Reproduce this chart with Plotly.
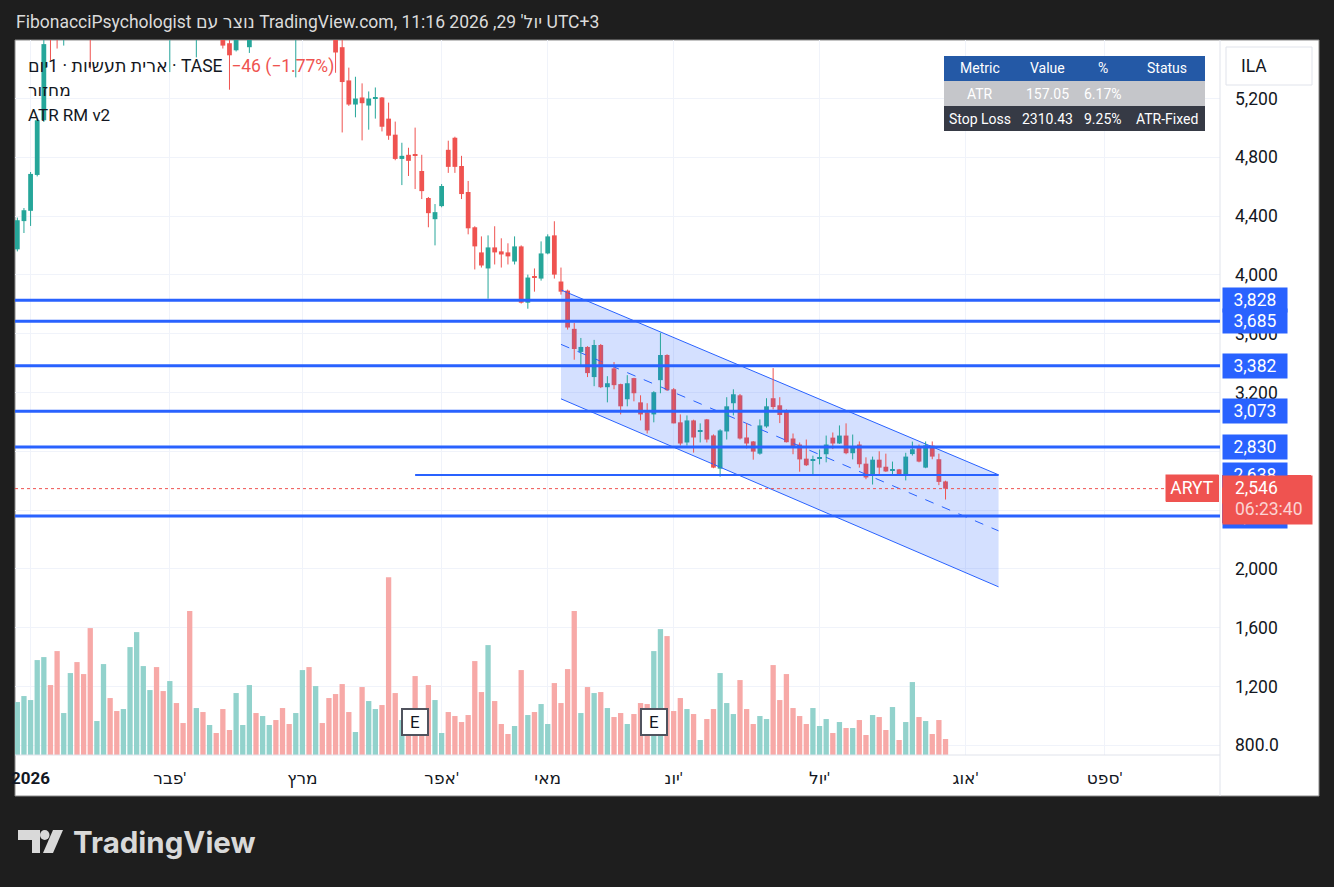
import plotly.graph_objects as go

# ARYT daily candles, Dec-2025 .. 29 Jul 2026
opens = [4174, 4366, 4436, 4680, 5052, 5660, 5640, 5620, 5720, 5820,
         5760, 5700, 5660, 5780, 5880, 5800, 5740, 5820, 5920, 6020,
         6100, 6160, 6040, 5880, 5960, 5880, 5800, 5740, 5800, 5740,
         5810, 5720, 5576, 5528, 5640, 5549, 5650, 5620, 5700, 5780,
         5720, 5680, 5640, 5700, 5760, 5720, 5780, 5720, 5660, 5549,
         5323, 5159, 5207, 5152, 5200, 5207, 5063, 4954, 4789, 4817,
         4817, 4707, 4523, 4379, 4468, 4851, 4933, 4741, 4564, 4324,
         4153, 4044, 4187, 4160, 4153, 4091, 4194, 3811, 3989, 3975,
         4146, 4269, 3955, 3893, 3633, 3476, 3510, 3305, 3523, 3236,
         3364, 3257, 3154, 3298, 3133, 3065, 3051, 3284, 3455, 3222,
         2997, 2860, 3010, 2935, 3017, 2908, 2682, 2935, 3127, 3181,
         2894, 2867, 2784, 2969, 3161, 3113, 3078, 2887, 2846, 2750,
         2738, 2750, 2780, 2893, 2853, 2907, 2787, 2846, 2716, 2644,
         2743, 2695, 2670, 2677, 2644, 2781, 2835, 2689, 2839, 2746,
         2595]
highs = [4390, 4455, 4700, 5060, 5640, 5720, 5700, 5780, 5860, 5880,
         5800, 5740, 5820, 5920, 5940, 5840, 5860, 5960, 6070, 6150,
         6210, 6200, 6070, 6000, 6000, 5920, 5830, 5850, 5830, 5850,
         5840, 5750, 5620, 5680, 5720, 5700, 5700, 5740, 5820, 5810,
         5750, 5710, 5740, 5800, 5790, 5820, 5800, 5740, 5700, 5620,
         5410, 5348, 5303, 5248, 5275, 5210, 5172, 5043, 4899, 4865,
         5002, 4817, 4530, 4482, 4618, 4913, 4940, 4810, 4639, 4331,
         4262, 4269, 4331, 4249, 4215, 4262, 4201, 4002, 4044, 4228,
         4276, 4365, 4050, 3900, 3674, 3571, 3515, 3558, 3530, 3311,
         3407, 3260, 3318, 3300, 3181, 3127, 3209, 3606, 3460, 3230,
         3051, 3044, 3015, 2990, 3020, 2915, 2950, 3168, 3222, 3190,
         2990, 2870, 3017, 3161, 3366, 3168, 3085, 2921, 2860, 2880,
         2770, 2812, 2907, 2928, 2976, 2990, 2914, 2867, 2759, 2764,
         2800, 2784, 2730, 2680, 2790, 2866, 2846, 2867, 2867, 2784,
         2600]
lows = [4160, 4285, 4333, 4670, 5040, 5460, 5540, 5560, 5680, 5700,
        5640, 5400, 5630, 5740, 5760, 5680, 5700, 5790, 5890, 5980,
        6060, 5990, 5850, 5380, 5830, 5750, 5690, 5480, 5700, 5710,
        5680, 5540, 5260, 5520, 5620, 5510, 5610, 5610, 5680, 5690,
        5640, 5615, 5344, 5680, 5690, 5700, 5690, 5630, 5375, 4969,
        5150, 5072, 4915, 4988, 5063, 4976, 4919, 4780, 4611, 4673,
        4584, 4516, 4324, 4201, 4460, 4694, 4694, 4516, 4276, 4037,
        4050, 3838, 4071, 4050, 4071, 4071, 3805, 3770, 3886, 3961,
        4140, 3975, 3866, 3628, 3423, 3387, 3305, 3243, 3230, 3133,
        3222, 3051, 3106, 3140, 3010, 2921, 2997, 3195, 3210, 2990,
        2839, 2839, 2791, 2860, 2860, 2685, 2627, 2880, 3044, 2880,
        2819, 2743, 2777, 2960, 3085, 2992, 2860, 2780, 2661, 2700,
        2634, 2711, 2725, 2815, 2850, 2780, 2745, 2689, 2610, 2574,
        2644, 2660, 2644, 2640, 2602, 2771, 2725, 2685, 2746, 2570,
        2472]
closes = [4372, 4440, 4687, 5052, 5570, 5610, 5620, 5720, 5820, 5760,
          5700, 5650, 5780, 5880, 5800, 5740, 5820, 5920, 6020, 6100,
          6160, 6040, 5900, 5960, 5880, 5800, 5740, 5800, 5740, 5810,
          5720, 5560, 5494, 5640, 5680, 5650, 5620, 5700, 5780, 5720,
          5680, 5640, 5700, 5760, 5720, 5780, 5720, 5660, 5513, 5312,
          5159, 5200, 5168, 5200, 5207, 5008, 4947, 4789, 4810, 4776,
          4810, 4570, 4420, 4427, 4605, 4735, 4735, 4550, 4317, 4194,
          4064, 4187, 4153, 4139, 4126, 4194, 3811, 3982, 3982, 4146,
          4262, 4002, 3886, 3642, 3496, 3510, 3332, 3523, 3236, 3263,
          3250, 3106, 3263, 3195, 3051, 2942, 3202, 3455, 3216, 2990,
          2853, 3010, 2894, 2942, 2880, 2689, 2942, 3106, 3188, 2887,
          2853, 2798, 2976, 3106, 3101, 3047, 2862, 2835, 2745, 2705,
          2743, 2761, 2846, 2853, 2907, 2787, 2835, 2712, 2622, 2743,
          2689, 2663, 2677, 2644, 2764, 2814, 2730, 2841, 2764, 2592,
          2546]
volume_k = [53, 59, 55, 95, 98, 70, 104, 42, 82, 93,
            81, 127, 34, 91, 57, 44, 46, 108, 123, 89,
            65, 88, 64, 74, 52, 32, 144, 47, 43, 30,
            22, 46, 25, 62, 30, 70, 42, 39, 30, 35,
            47, 31, 42, 85, 88, 69, 32, 57, 61, 71,
            43, 23, 68, 54, 46, 50, 178, 62, 35, 28,
            79, 27, 70, 55, 22, 43, 39, 33, 40, 94,
            63, 110, 54, 31, 21, 29, 85, 40, 43, 51,
            31, 72, 52, 86, 144, 42, 68, 62, 63, 47,
            38, 42, 31, 41, 52, 51, 104, 126, 119, 44,
            57, 46, 41, 15, 36, 46, 82, 52, 41, 75,
            46, 31, 39, 36, 90, 55, 81, 47, 39, 31,
            47, 29, 36, 22, 33, 27, 27, 35, 20, 40,
            38, 25, 48, 15, 33, 73, 38, 34, 21, 35,
            16]

month_bars = [2, 23, 43, 64, 80, 99, 121, 143, 164]
month_labels = ["<b>2026</b>", "פבר'", "מרץ", "אפר'", "מאי", "יונ'", "יול'", "אוג'", "ספט'"]

price_ticks = [800, 1200, 1600, 2000, 2400, 2800, 3200, 3600, 4000, 4400, 4800, 5200]
price_tick_labels = ["800.0", "1,200", "1,600", "2,000", "2,400", "2,800", "3,200",
                     "3,600", "4,000", "4,400", "4,800", "5,200"]

levels = [3828, 3685, 3382, 3073, 2830, 2360]
short_level = 2638
short_level_bars = [60, 148]

channel_bars = [82, 148]
channel_upper = [3898, 2640]
channel_lower = [3157, 1878]

earnings_bars = [60, 96]

table_rows = [["Metric", "Value", "%", "Status"],
              ["ATR", "157.05", "6.17%", ""],
              ["Stop Loss", "2310.43", "9.25%", "ATR-Fixed"]]

last_price = 2546
change = -46
change_pct = -1.77

UP = "#26a69a"
DOWN = "#ef5350"
BLUE = "#2962ff"
TEXT = "#131722"
FONT = "Roboto, 'Noto Sans', 'DejaVu Sans', sans-serif"

# pixel -> paper helpers (plot area is 15..1220 x 40..755)
L, R, T, B = 15, 1220, 40, 755


def px(x):
    return (x - L) / (R - L)


def py(y):
    return (B - y) / (B - T)


bars = list(range(len(closes)))
vol_colors = ["#92d2cc" if c >= o else "#f7a9a7" for o, c in zip(opens, closes)]
channel_mid = [(a + b) / 2 for a, b in zip(channel_upper, channel_lower)]

fig = go.Figure()

# channel
fig.add_trace(go.Scatter(
    x=[channel_bars[0], channel_bars[1], channel_bars[1], channel_bars[0]],
    y=[channel_upper[0], channel_upper[1], channel_lower[1], channel_lower[0]],
    fill="toself", fillcolor="rgba(41,98,255,0.2)", mode="lines",
    line=dict(width=0), hoverinfo="skip"))
fig.add_trace(go.Scatter(x=channel_bars, y=channel_upper, mode="lines",
                         line=dict(color=BLUE, width=1), hoverinfo="skip"))
fig.add_trace(go.Scatter(x=channel_bars, y=channel_lower, mode="lines",
                         line=dict(color=BLUE, width=1), hoverinfo="skip"))
fig.add_trace(go.Scatter(x=channel_bars, y=channel_mid, mode="lines",
                         line=dict(color=BLUE, width=1, dash="dash"), hoverinfo="skip"))

# candles: wicks as lines, bodies as floating bars
for is_up, col in ((True, UP), (False, DOWN)):
    idx = [i for i in bars if (closes[i] >= opens[i]) == is_up]
    wx, wy = [], []
    for i in idx:
        wx += [i, i, None]
        wy += [lows[i], highs[i], None]
    fig.add_trace(go.Scatter(x=wx, y=wy, mode="lines", line=dict(color=col, width=1),
                             hoverinfo="skip"))
    fig.add_trace(go.Bar(x=idx, y=[abs(closes[i] - opens[i]) for i in idx],
                         base=[min(opens[i], closes[i]) for i in idx],
                         width=0.72, marker=dict(color=col, line=dict(width=0)), hoverinfo="skip"))

fig.add_trace(go.Bar(x=bars, y=volume_k, yaxis="y2", marker=dict(color=vol_colors, line=dict(width=0)),
                     width=0.8, hoverinfo="skip"))

shapes = []
# white chart panel + separators
shapes.append(dict(type="rect", xref="paper", yref="paper", x0=px(15), x1=px(1319), y0=py(40), y1=py(796),
                   fillcolor="white", line=dict(color="#8a8a8a", width=1), layer="below"))
shapes.append(dict(type="line", xref="paper", yref="paper", x0=1, x1=1, y0=py(40), y1=py(796),
                   line=dict(color="#e0e3eb", width=1)))
shapes.append(dict(type="line", xref="paper", yref="paper", x0=0, x1=1, y0=0, y1=0,
                   line=dict(color="#e0e3eb", width=1)))

for lv in levels:
    shapes.append(dict(type="line", xref="paper", yref="y", x0=0, x1=1, y0=lv, y1=lv,
                       line=dict(color=BLUE, width=3)))
shapes.append(dict(type="line", xref="x", yref="y", x0=short_level_bars[0], x1=short_level_bars[1],
                   y0=short_level, y1=short_level, line=dict(color=BLUE, width=2)))
# last price line
shapes.append(dict(type="line", xref="paper", yref="y", x0=0, x1=px(1166), y0=last_price, y1=last_price,
                   line=dict(color=DOWN, width=1, dash="dot")))

# ILA box
shapes.append(dict(type="rect", xref="paper", yref="paper", x0=px(1226), x1=px(1312), y0=py(47), y1=py(85),
                   fillcolor="white", line=dict(color="#e0e3eb", width=1)))

annotations = []

# table
col_edges = [944, 1016, 1078, 1128, 1205]
row_edges = [56, 81, 106, 131]
row_bg = ["#2459a6", "#c5c6ca", "#363a45"]
for r, row in enumerate(table_rows):
    shapes.append(dict(type="rect", xref="paper", yref="paper", x0=px(col_edges[0]), x1=px(col_edges[-1]),
                       y0=py(row_edges[r]), y1=py(row_edges[r + 1]), fillcolor=row_bg[r], line=dict(width=0)))
    for c, cell in enumerate(row):
        if not cell:
            continue
        annotations.append(dict(xref="paper", yref="paper",
                                x=px((col_edges[c] + col_edges[c + 1]) / 2),
                                y=py((row_edges[r] + row_edges[r + 1]) / 2),
                                text=cell, showarrow=False, xanchor="center", yanchor="middle",
                                font=dict(size=14, color="white")))

# title and legend
annotations.append(dict(xref="paper", yref="paper", x=px(14), y=py(22), xanchor="left", yanchor="middle",
                        text="FibonacciPsychologist נוצר עם TradingView.com, יול' 29, 2026 11:16 UTC+3",
                        showarrow=False, font=dict(size=17.5, color="#dbdbdb")))
annotations.append(dict(xref="paper", yref="paper", x=px(26), y=py(66), xanchor="left", yanchor="middle",
                        text=f"ארית תעשיות · 1יום · TASE&nbsp;&nbsp;<span style='color:{DOWN}'>"
                             f"−{abs(change)} (−{abs(change_pct):.2f}%)</span>",
                        showarrow=False, font=dict(size=17.5, color=TEXT)))
annotations.append(dict(xref="paper", yref="paper", x=px(26), y=py(90), xanchor="left", yanchor="middle",
                        text="מחזור", showarrow=False, font=dict(size=17, color=TEXT)))
annotations.append(dict(xref="paper", yref="paper", x=px(26), y=py(115), xanchor="left", yanchor="middle",
                        text="ATR RM v2", showarrow=False, font=dict(size=17, color=TEXT)))

annotations.append(dict(xref="paper", yref="paper", x=px(1239), y=py(66), xanchor="left", yanchor="middle",
                        text="ILA", showarrow=False, font=dict(size=17.5, color=TEXT)))

# level labels on the price scale
for lv in sorted(levels + [short_level], reverse=True):
    annotations.append(dict(xref="paper", yref="y", x=px(1222), y=lv, xanchor="left", yanchor="middle",
                            text=f"{lv:,}", showarrow=False, bgcolor=BLUE, width=64, height=24, borderpad=0,
                            align="center", font=dict(size=17.5, color="white")))

# last price labels
shapes.append(dict(type="rect", xref="paper", yref="paper", x0=px(1166), x1=px(1219), y0=py(475), y1=py(502),
                   fillcolor=DOWN, line=dict(width=0), layer="above"))
shapes.append(dict(type="rect", xref="paper", yref="paper", x0=px(1222), x1=px(1311), y0=py(475), y1=py(523),
                   fillcolor=DOWN, line=dict(width=0), layer="above"))
annotations.append(dict(xref="paper", yref="paper", x=px(1192), y=py(488), xanchor="center", yanchor="middle",
                        text="ARYT", showarrow=False, font=dict(size=17.5, color="white"),
                        bgcolor=DOWN, width=52, height=26, borderpad=0))
annotations.append(dict(xref="paper", yref="paper", x=px(1222), y=py(475), xanchor="left", yanchor="top",
                        text="", showarrow=False, bgcolor=DOWN, width=89, height=48, borderpad=0))
annotations.append(dict(xref="paper", yref="paper", x=px(1233), y=py(488), xanchor="left", yanchor="middle",
                        text=f"{last_price:,}", showarrow=False, font=dict(size=17.5, color="white")))
annotations.append(dict(xref="paper", yref="paper", x=px(1233), y=py(509), xanchor="left", yanchor="middle",
                        text="06:23:40", showarrow=False,
                        font=dict(size=17.5, color="rgba(255,255,255,0.75)")))

# earnings badges
for eb in earnings_bars:
    annotations.append(dict(xref="x", yref="paper", x=eb, y=py(736), text="E", showarrow=False,
                            bgcolor="white", bordercolor="#50535e", borderwidth=2, borderpad=1,
                            width=22, height=22, font=dict(size=17, color=TEXT)))

# TradingView logo
logo = "#d9d9d9"
shapes.append(dict(type="path", xref="paper", yref="paper", fillcolor=logo, line=dict(width=0),
                   path=f"M {px(18)} {py(830)} L {px(40)} {py(830)} L {px(40)} {py(853)} L {px(32)} {py(853)} "
                        f"L {px(32)} {py(840)} L {px(18)} {py(840)} Z"))
shapes.append(dict(type="circle", xref="paper", yref="paper", fillcolor=logo, line=dict(width=0),
                   x0=px(40), x1=px(49.5), y0=py(830), y1=py(840)))
shapes.append(dict(type="path", xref="paper", yref="paper", fillcolor=logo, line=dict(width=0),
                   path=f"M {px(53)} {py(830)} L {px(63)} {py(830)} L {px(53)} {py(853)} L {px(43)} {py(853)} Z"))
annotations.append(dict(xref="paper", yref="paper", x=px(71), y=py(842), xanchor="left", yanchor="middle",
                        text="<b>TradingView</b>", showarrow=False,
                        font=dict(size=29.5, color=logo, family="Inter, Roboto, sans-serif")))

fig.update_layout(
    width=1334, height=887, autosize=False,
    margin=dict(l=L, r=1334 - R, t=T, b=887 - B),
    paper_bgcolor="#1e1e1e", plot_bgcolor="white",
    font=dict(family=FONT, color=TEXT),
    showlegend=False, hovermode=False, barmode="overlay",
    shapes=shapes, annotations=annotations,
    xaxis=dict(range=[-0.35, 181.4], tickmode="array", tickvals=month_bars, ticktext=month_labels,
               showgrid=True, gridcolor="#f0f3fa", zeroline=False, showline=False, ticks="",
               tickfont=dict(size=17, color=TEXT), ticklabelstandoff=11),
    yaxis=dict(range=[734, 5598], side="right", tickmode="array", tickvals=price_ticks,
               ticktext=price_tick_labels, showgrid=True, gridcolor="#f0f3fa", zeroline=False,
               showline=False, ticks="", tickfont=dict(size=17.5, color=TEXT), ticklabelstandoff=14),
    yaxis2=dict(overlaying="y", range=[0, max(volume_k) * 4.02], visible=False),
)

fig.write_html("out.html", config={"displayModeBar": False},
               post_script="document.body.style.margin='0';document.body.style.overflow='hidden';")
